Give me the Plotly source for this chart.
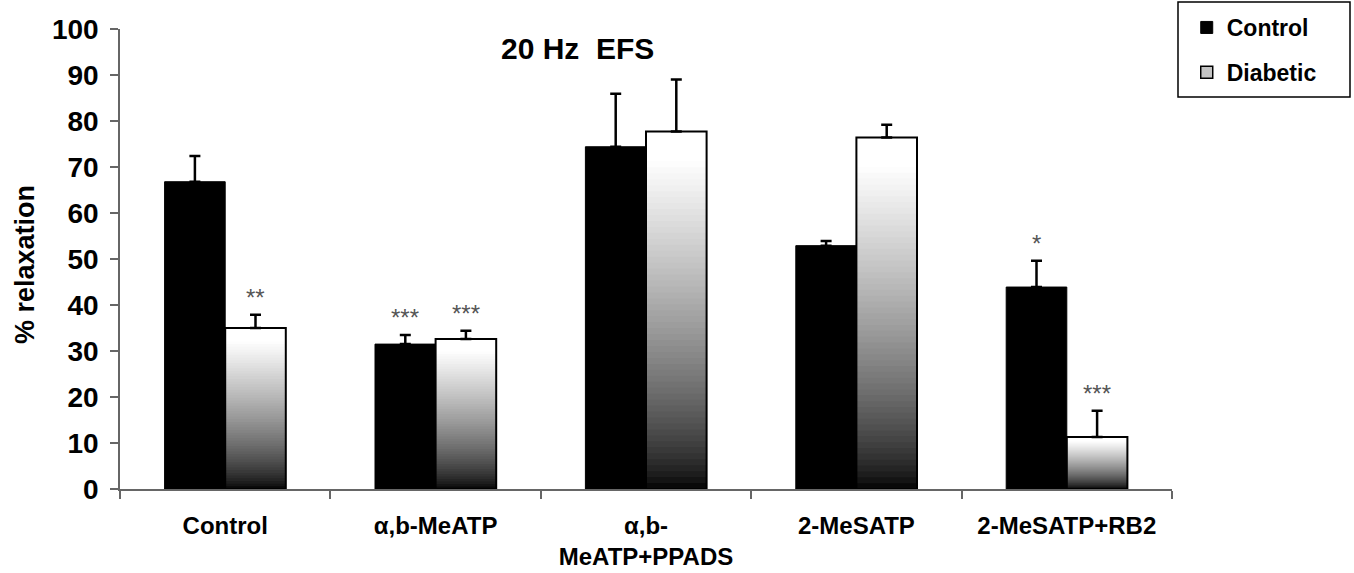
import plotly.graph_objects as go

# Treatment groups (x categories)
categories = ["Control", "α,b-MeATP", "α,b-<br>MeATP+PPADS", "2-MeSATP", "2-MeSATP+RB2"]

# Mean % relaxation and SEM for each group
control_mean = [66.8, 31.5, 74.4, 52.9, 43.9]
control_sem = [5.6, 2.0, 11.5, 1.0, 5.7]
diabetic_mean = [35.0, 32.6, 77.7, 76.4, 11.3]
diabetic_sem = [2.9, 1.8, 11.3, 2.8, 5.7]

# Significance markers vs. control
control_sig = ["", "***", "", "", "*"]
diabetic_sig = ["**", "***", "", "", "***"]

FONT = "Arial, 'Liberation Sans', sans-serif"
BARGAP = 0.424
N_BANDS = 60

fig = go.Figure()

# Control bars (solid black)
fig.add_trace(go.Bar(
    x=categories, y=control_mean, name="Control", offsetgroup="ctrl",
    legendgroup="c",
    marker=dict(color="black", line=dict(color="black", width=1)),
    error_y=dict(type="data", array=control_sem, arrayminus=[0] * len(control_sem),
                 symmetric=False, color="black", thickness=2.5, width=5.5),
))

# Diabetic bars: vertical white-to-black gradient built from overlaid bands,
# drawn from the full-height (lightest) band down to the shortest (darkest)
for k in range(N_BANDS, 0, -1):
    frac = k / N_BANDS
    t = (k - 0.5) / N_BANDS
    g = int(round(255 * min(1.0, t / 0.92) ** 0.7))
    fig.add_trace(go.Bar(
        x=categories, y=[v * frac for v in diabetic_mean], base=0,
        offsetgroup="diab", showlegend=False, hoverinfo="skip",
        marker=dict(color=f"rgb({g},{g},{g})", line=dict(width=0)),
    ))

# Diabetic bar outline with error bars
fig.add_trace(go.Bar(
    x=categories, y=diabetic_mean, base=0, offsetgroup="diab", showlegend=False,
    marker=dict(color="rgba(0,0,0,0)", line=dict(color="black", width=2)),
    error_y=dict(type="data", array=diabetic_sem, arrayminus=[0] * len(diabetic_sem),
                 symmetric=False, color="black", thickness=2.5, width=5.5),
))

# Legend entry for the diabetic series
fig.add_trace(go.Bar(
    x=[categories[0]], y=[None], name="Diabetic", offsetgroup="diab", legendgroup="d",
    marker=dict(color="#c4c4c4", line=dict(color="black", width=1.5)),
))

# Significance stars above the error bars
half = (1 - BARGAP) / 4
annotations = []
for i, cat in enumerate(categories):
    for sig, mean, sem, dx in ((control_sig[i], control_mean[i], control_sem[i], -half),
                               (diabetic_sig[i], diabetic_mean[i], diabetic_sem[i], half)):
        if sig:
            annotations.append(dict(
                x=i + dx, y=mean + sem, xref="x", yref="y", text=sig, showarrow=False,
                yanchor="middle", yshift=17,
                font=dict(family=FONT, size=24, color="#555555", weight="normal"),
            ))

annotations.append(dict(
    x=0.435, y=0.958, xref="paper", yref="paper", text="20 Hz\u00a0 EFS",
    showarrow=False, xanchor="center", yanchor="middle",
    font=dict(family=FONT, size=30, color="black", weight="bold"),
))
annotations.append(dict(
    x=-0.0903, y=0.487, xref="paper", yref="paper", text="% relaxation",
    showarrow=False, textangle=-90, xanchor="center", yanchor="middle",
    font=dict(family=FONT, size=27, color="black", weight="bold"),
))

fig.update_layout(
    width=1354, height=573,
    margin=dict(l=120, r=182, t=29, b=84, autoexpand=False),
    paper_bgcolor="white", plot_bgcolor="white",
    font=dict(family=FONT, color="black", weight="bold"),
    barmode="group", bargap=BARGAP, bargroupgap=0,
    showlegend=True,
    legend=dict(
        x=1.014, y=1.05, xanchor="left", yanchor="top",
        traceorder="grouped", tracegroupgap=12,
        font=dict(family=FONT, size=23, color="black", weight="bold"),
        bgcolor="rgba(0,0,0,0)", borderwidth=0,
    ),
    annotations=annotations,
    shapes=[dict(type="rect", xref="paper", yref="paper",
                 x0=1.0057, x1=1.1692, y0=0.852, y1=1.0587,
                 line=dict(color="black", width=1.5), fillcolor="rgba(0,0,0,0)")],
    xaxis=dict(
        type="category", showline=True, linecolor="#666666", linewidth=1.5,
        ticks="outside", ticklen=8, tickcolor="#666666", tickwidth=1.5,
        tickson="boundaries", showgrid=False, zeroline=False, automargin=False,
        tickfont=dict(family=FONT, size=24, color="black", weight="bold"),
        ticklabelstandoff=14,
    ),
    yaxis=dict(
        range=[0, 100], dtick=10, showline=True, linecolor="#666666", linewidth=1.5,
        ticks="outside", ticklen=8, tickcolor="#666666", tickwidth=1.5,
        showgrid=False, zeroline=False, automargin=False,
        tickfont=dict(family=FONT, size=28, color="black", weight="bold"),
        ticklabelstandoff=6,
    ),
)

fig.write_html("out.html")
